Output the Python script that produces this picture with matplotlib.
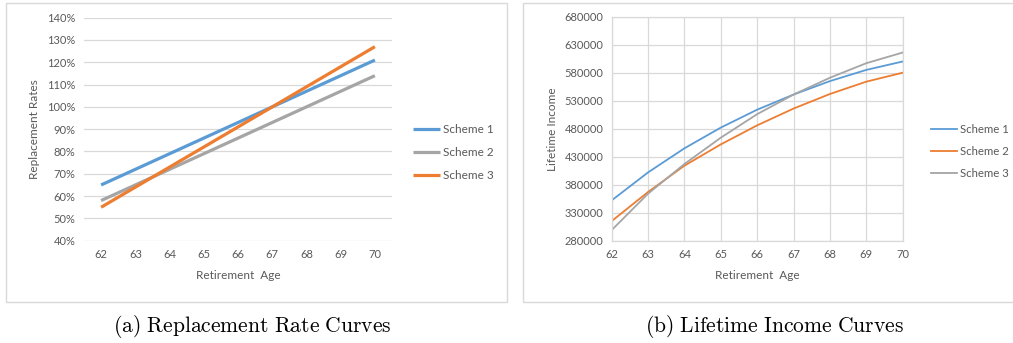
"""
Replacement rate and lifetime income curves for three retirement schemes
"""

import matplotlib.pyplot as plt
from matplotlib.patches import Rectangle
from matplotlib.ticker import PercentFormatter

plt.rcParams["font.family"] = ["Lato", "DejaVu Sans"]
plt.rcParams["mathtext.fontset"] = "cm"

ages = [62, 63, 64, 65, 66, 67, 68, 69, 70]

# panel (a): replacement rates (fraction of final salary)
rate_scheme1 = [0.65, 0.72, 0.79, 0.86, 0.93, 1.00, 1.07, 1.14, 1.21]
rate_scheme2 = [0.58, 0.65, 0.72, 0.79, 0.86, 0.93, 1.00, 1.07, 1.14]
rate_scheme3 = [0.55, 0.64, 0.73, 0.82, 0.91, 1.00, 1.09, 1.18, 1.27]

# panel (b): lifetime income
income_scheme1 = [352000, 402000, 445000, 482000, 514000, 541000, 565000, 585000, 600000]
income_scheme2 = [315000, 367000, 414000, 452000, 486000, 516000, 542000, 564000, 580000]
income_scheme3 = [299000, 364000, 417000, 464000, 506000, 541000, 571000, 597000, 616000]

income_ticks = [280000, 330000, 380000, 430000, 480000, 530000, 580000, 630000, 680000]

blue = "#5b9bd5"
orange = "#ed7d31"
grey = "#a5a5a5"
text_col = "#595959"
grid_col = "#d9d9d9"

W, H = 1013, 343
fig = plt.figure(figsize=(W / 100, H / 100), dpi=100)


def px_box(x0, y0, x1, y1):
    """pixel box (top-left origin) -> figure fraction rect"""
    return [x0 / W, 1 - y1 / H, (x1 - x0) / W, (y1 - y0) / H]


# chart frames (the right one runs off the edge of the picture)
for x0, x1 in [(6, 507), (523, 1030)]:
    fig.patches.append(Rectangle((x0 / W, 1 - 302 / H), (x1 - x0) / W, 299 / H,
                                 transform=fig.transFigure, fill=False,
                                 edgecolor=grid_col, linewidth=1))

tick_fs = 8
label_fs = 8.5
legend_kw = dict(loc="center left", bbox_transform=fig.transFigure,
                 frameon=False, handlelength=2.3,
                 handletextpad=0.25, labelspacing=1.0, borderpad=0,
                 borderaxespad=0, labelcolor=text_col)

# ---- panel (a)
ax1 = fig.add_axes(px_box(84, 17.7, 392, 240.7))
ax1.plot(ages, rate_scheme1, color=blue, lw=2.3, label="Scheme 1", solid_capstyle="butt")
ax1.plot(ages, rate_scheme2, color=grey, lw=2.3, label="Scheme 2", solid_capstyle="butt")
ax1.plot(ages, rate_scheme3, color=orange, lw=2.3, label="Scheme 3", solid_capstyle="butt")
ax1.set_xlim(61.5, 70.5)
ax1.set_ylim(0.4, 1.4)
ax1.set_yticks([0.4 + 0.1 * i for i in range(11)])
ax1.yaxis.set_major_formatter(PercentFormatter(1.0, decimals=0))
ax1.set_xticks(ages)
ax1.grid(axis="y", color=grid_col, lw=0.9)
ax1.set_axisbelow(True)
for s in ax1.spines.values():
    s.set_visible(False)
ax1.tick_params(length=0, labelsize=tick_fs, colors=text_col, pad=6)
ax1.set_xlabel("Retirement  Age", fontsize=label_fs, color=text_col, labelpad=7)
ax1.set_ylabel("Replacement Rates", fontsize=label_fs, color=text_col, labelpad=5)
ax1.legend(bbox_to_anchor=(413 / W, 1 - 152.5 / H), fontsize=label_fs, **legend_kw)

# ---- panel (b)
ax2 = fig.add_axes(px_box(611.7, 16.7, 902.7, 240.7))
ax2.plot(ages, income_scheme1, color=blue, lw=1.3, label="Scheme 1")
ax2.plot(ages, income_scheme2, color=orange, lw=1.3, label="Scheme 2")
ax2.plot(ages, income_scheme3, color=grey, lw=1.3, label="Scheme 3")
ax2.set_xlim(62, 70)
ax2.set_ylim(280000, 680000)
ax2.set_yticks(income_ticks)
ax2.set_xticks(ages)
ax2.grid(color=grid_col, lw=0.9)
ax2.set_axisbelow(True)
for s in ax2.spines.values():
    s.set_color(grid_col)
    s.set_linewidth(0.9)
ax2.tick_params(length=0, labelsize=tick_fs, colors=text_col, pad=6)
ax2.set_xlabel("Retirement  Age", fontsize=label_fs, color=text_col, labelpad=7)
ax2.set_ylabel("Lifetime Income", fontsize=label_fs, color=text_col, labelpad=5)
ax2.legend(bbox_to_anchor=(931 / W, 1 - 151.5 / H), fontsize=8.2, **legend_kw)

# captions
fig.text(252 / W, 1 - 326 / H, r"$\mathrm{(a)\ Replacement\ Rate\ Curves}$",
         ha="center", va="center", fontsize=15.5)
fig.text(774 / W, 1 - 326 / H, r"$\mathrm{(b)\ Lifetime\ Income\ Curves}$",
         ha="center", va="center", fontsize=15.5)

fig.savefig("out.png", dpi=100)
